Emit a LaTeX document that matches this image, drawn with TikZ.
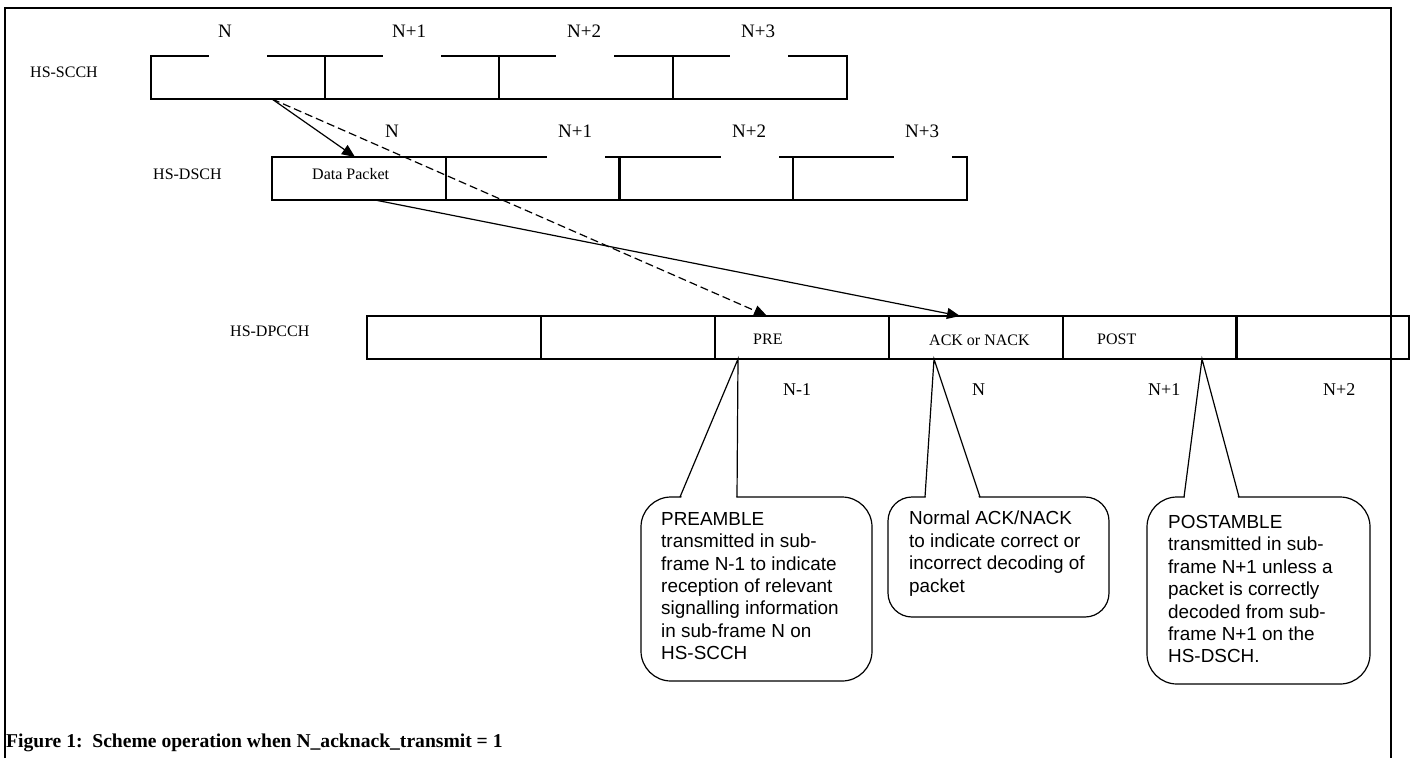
\documentclass[tikz,border=0pt]{standalone}
\usepackage{fontspec}
\setmainfont{Liberation Serif}
\setsansfont{Liberation Sans}
\usetikzlibrary{arrows.meta}
\begin{document}
\begin{tikzpicture}[x=1pt,y=-1pt,
  cell/.style={draw, line width=1.2pt, minimum width=174pt, minimum height=43pt,
    inner sep=0pt, outer sep=0pt, anchor=north west},
  gap/.style={white, line width=2.6pt},
  num/.style={font=\fontsize{19}{22}\selectfont, inner sep=0pt, anchor=west},
  lownum/.style={font=\fontsize{18}{22}\selectfont, inner sep=0pt, anchor=west},
  chan/.style={font=\fontsize{16}{19}\selectfont, inner sep=0pt, anchor=west},
  link/.style={line width=1.2pt, -{Triangle[length=13pt,width=11pt]}},
  hint/.style={link, dash pattern=on 8pt off 4pt},
  bubble/.style={draw, fill=white, line width=1.2pt, rounded corners=30pt,
    inner sep=0pt, outer sep=0pt, anchor=north west},
  wedge/.style={line width=1.2pt, line join=miter},
  note/.style={font=\sffamily\fontsize{18.9}{22.4}\selectfont, align=left,
    inner sep=0pt, anchor=north west},
  frame/.style={line width=2.4pt}
]
\useasboundingbox (0,0) rectangle (1412,758);

% ---- HS-SCCH ----
\node[chan] (lscch) at (30,72) {HS-SCCH};
\foreach \i/\x in {1/151,2/325,3/499,4/673}
  \node[cell] (s\i) at (\x,56) {};
\foreach \x in {209,383,556,730}
  \draw[gap] (\x,56) -- (\x+58,56);
\node[num] (ns1) at (218,31) {N};
\node[num] (ns2) at (392,31) {N+1};
\node[num] (ns3) at (567,31) {N+2};
\node[num] (ns4) at (741,31) {N+3};

% ---- HS-DSCH ----
\node[chan] (ldsch) at (153,174) {HS-DSCH};
\foreach \i/\x in {1/272,2/446,3/619,4/793}
  \node[cell] (h\i) at (\x,157) {};
\foreach \x in {547,721,894}
  \draw[gap] (\x,157) -- (\x+58,157);
\node[num] (nh1) at (385,131) {N};
\node[num] (nh2) at (558,131) {N+1};
\node[num] (nh3) at (732,131) {N+2};
\node[num] (nh4) at (905,131) {N+3};
\node[chan] (pkt) at (312,174) {Data Packet};

% ---- HS-DPCCH ----
\node[chan] (ldpcch) at (230,331) {HS-DPCCH};
\foreach \i/\x in {1/367,2/541,3/715,4/889,5/1063}
  \node[cell] (p\i) at (\x,316) {};
\node[cell, minimum width=173pt] (p6) at (1236,316) {};
\node[chan] (pre) at (753,339) {PRE};
\node[chan] (ack) at (929,340) {ACK or NACK};
\node[chan] (post) at (1097,339) {POST};
\node[lownum] (np1) at (783,390) {N-1};
\node[lownum] (np2) at (972,390) {N};
\node[lownum] (np3) at (1148,390) {N+1};
\node[lownum] (np4) at (1323,390) {N+2};

% ---- timing links ----
\coordinate (sA) at (272,99);
\coordinate (hA) at (355,157);
\coordinate (pA) at (767,316);
\coordinate (dA) at (375,200);
\coordinate (aA) at (960,316);
\draw[link] (sA) -- (hA);
\draw[hint] (sA) -- (pA);
\draw[link] (dA) -- (aA);

% ---- callouts ----
\node[bubble, minimum width=231pt, minimum height=184pt] (b1) at (641,497) {};
\coordinate (t1) at (738,359);
\fill[white] (680.6,499.5) -- (t1) -- (736.4,499.5) -- cycle;
\draw[wedge] (680,497) -- (t1) -- (737,497);
\node[note] (c1) at (661,512) {PREAMBLE\\transmitted in sub-\\frame N-1 to indicate\\reception of relevant\\signalling information\\in sub-frame N on\\HS-SCCH};

\node[bubble, rounded corners=24pt, minimum width=221pt, minimum height=120pt] (b2) at (888,497) {};
\coordinate (t2) at (934,359);
\fill[white] (925.6,499.5) -- (t2) -- (979.4,499.5) -- cycle;
\draw[wedge] (925,497) -- (t2) -- (980,497);
\node[note] (c2) at (909,511) {Normal ACK/NACK\\to indicate correct or\\incorrect decoding of\\packet};

\node[bubble, minimum width=223pt, minimum height=187pt] (b3) at (1147,497) {};
\coordinate (t3) at (1202,359);
\fill[white] (1184.6,499.5) -- (t3) -- (1238.4,499.5) -- cycle;
\draw[wedge] (1184,497) -- (t3) -- (1239,497);
\node[note] (c3) at (1168,515) {POSTAMBLE\\transmitted in sub-\\frame N+1 unless a\\packet is correctly\\decoded from sub-\\frame N+1 on the\\HS-DSCH.};

% ---- caption and frame ----
\node[font=\bfseries\fontsize{19.6}{22}\selectfont, inner sep=0pt, anchor=base west] (cap)
  at (6,747) {Figure 1:\ \ Scheme operation when N\_acknack\_transmit = 1};
\draw[frame] (5,758) -- (5,8) -- (1391,8) -- (1391,758);
\end{tikzpicture}
\end{document}
